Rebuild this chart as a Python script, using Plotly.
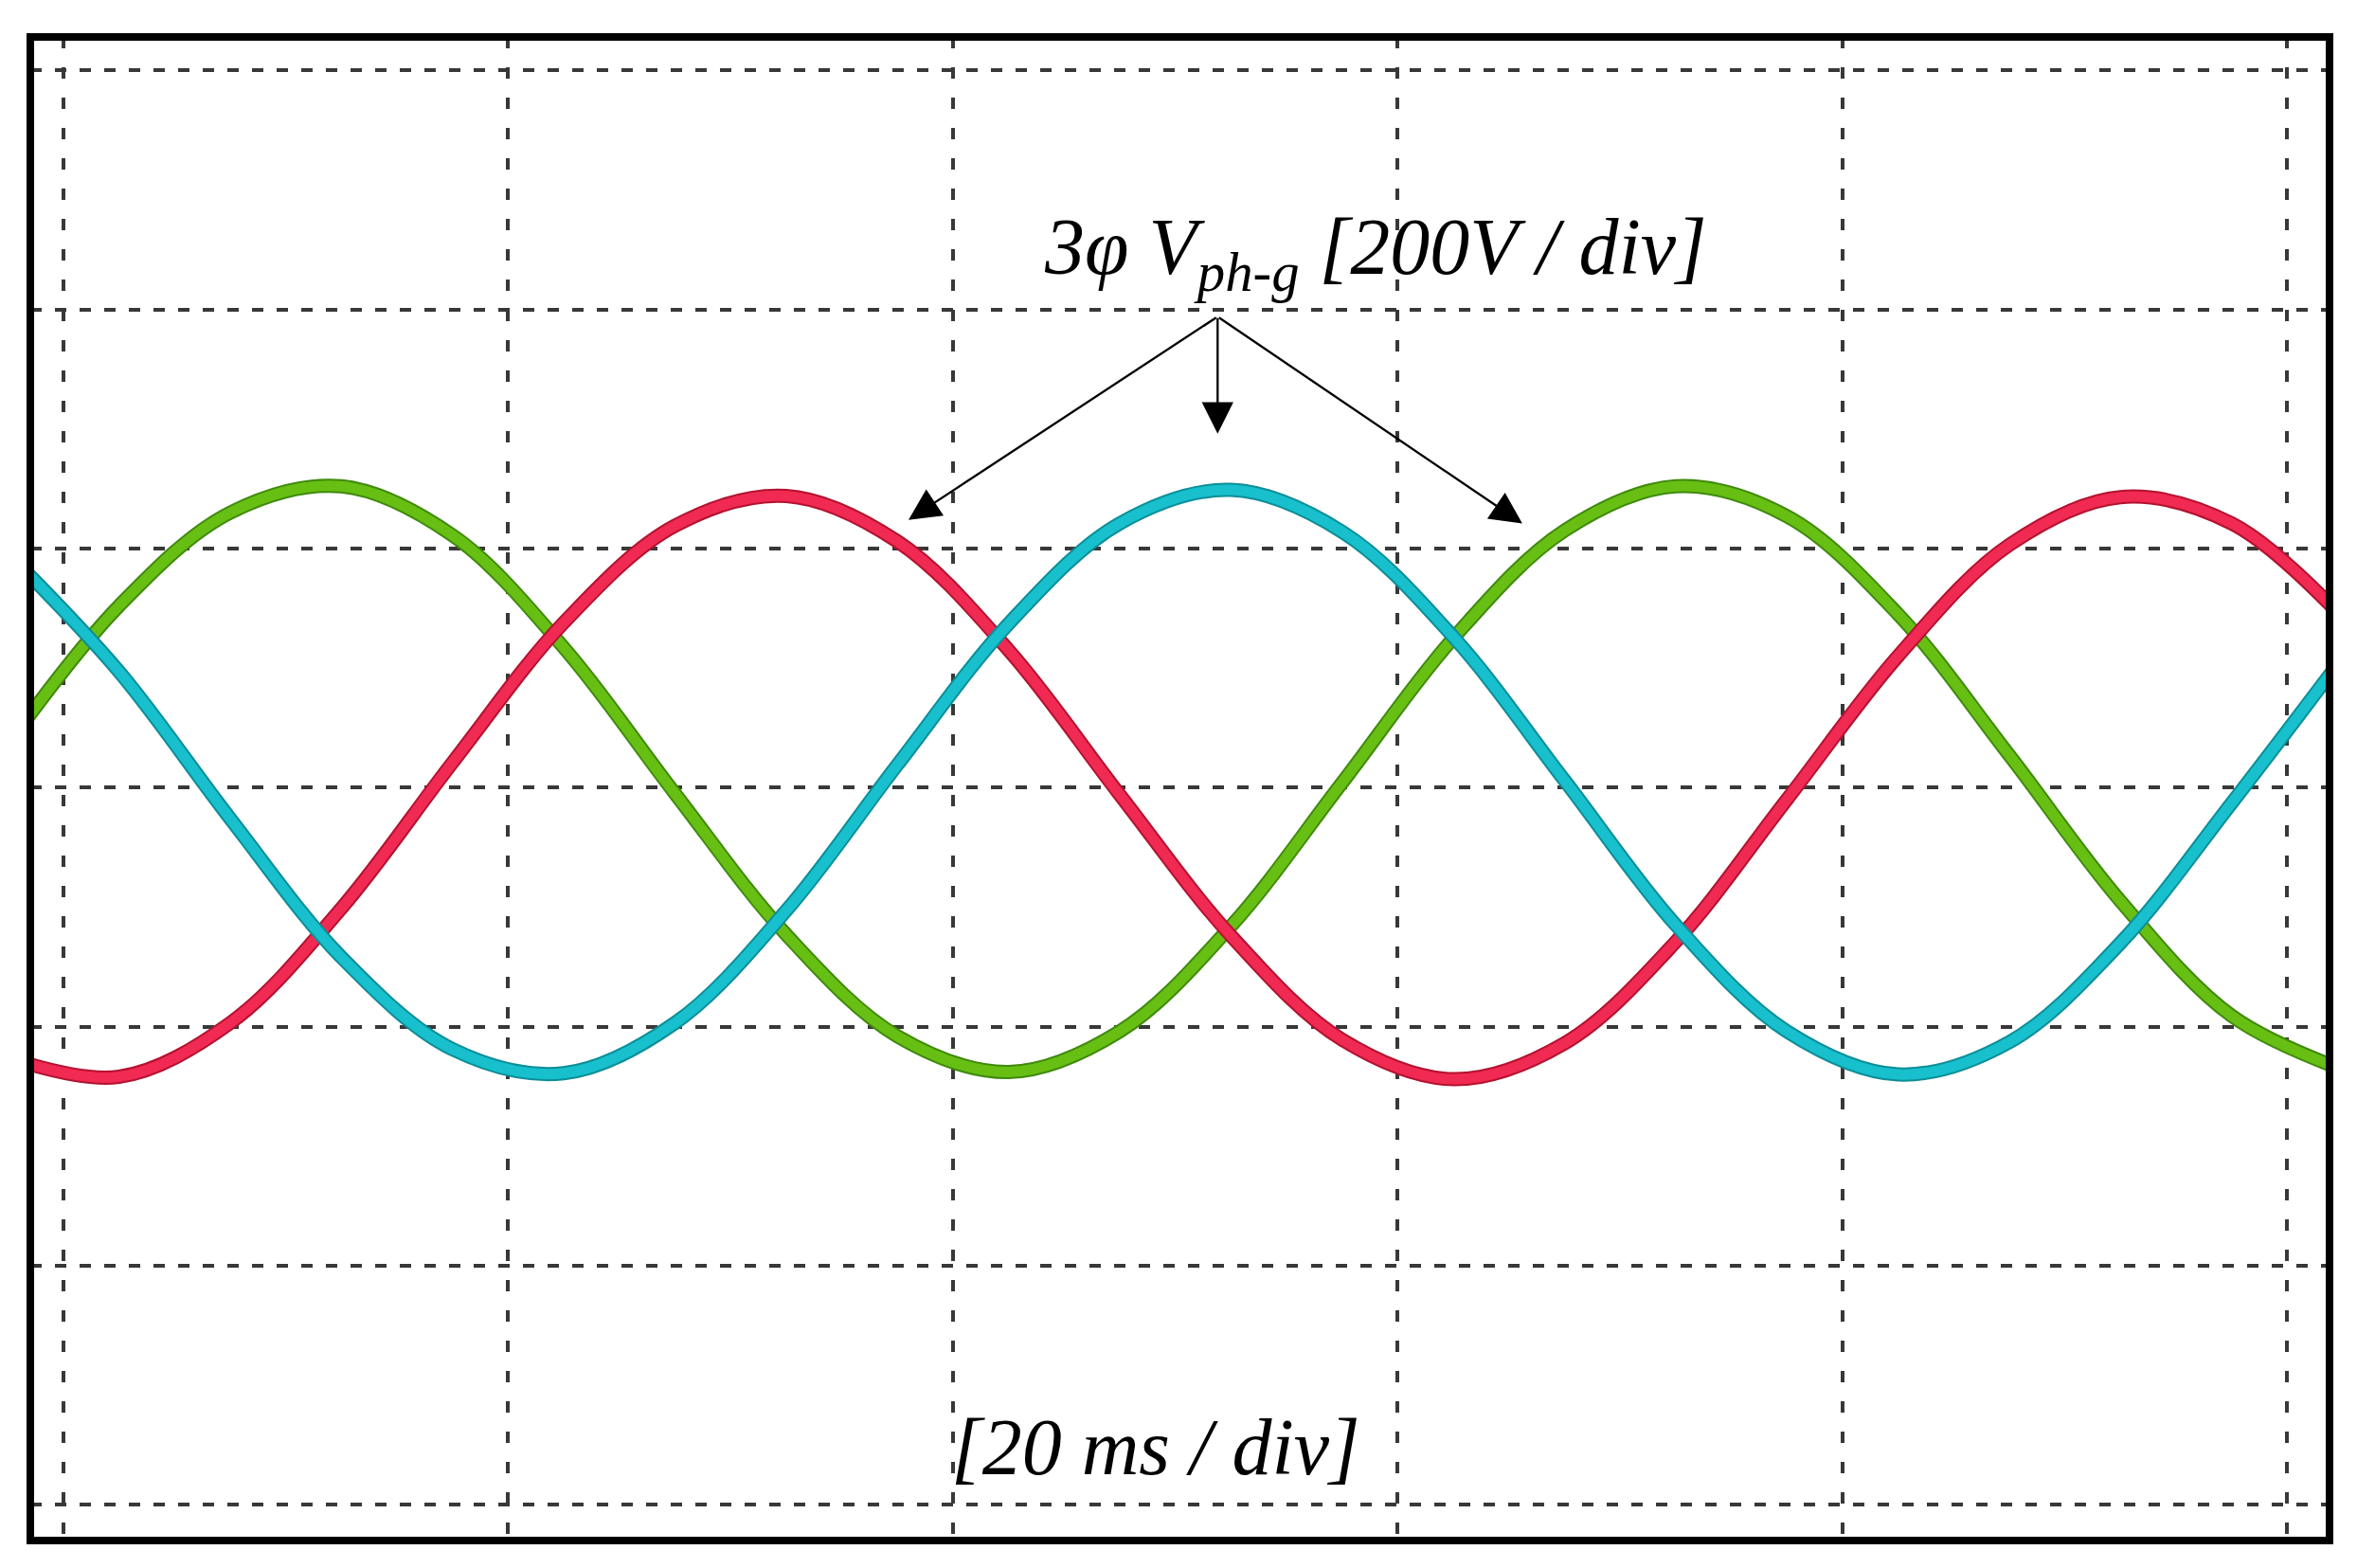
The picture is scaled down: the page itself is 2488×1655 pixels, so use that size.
import plotly.graph_objects as go

# Time axis (ms) and the three phase-to-ground voltages (V)
time_ms = [-2.5, 2.5, 7.5, 12.5, 17.5, 22.5, 27.5, 32.5, 37.5, 42.5, 47.5,
           52.5, 57.5, 62.5, 67.5, 72.5, 77.5, 82.5, 87.5, 92.5, 97.5, 102.5]
v_green = [36, 152, 230, 252, 211, 117, -5, -123, -208, -238, -204,
           -116, 4, 125, 215, 252, 227, 145, 27, -95, -191, -236]
v_red = [-226, -242, -197, -101, 21, 138, 219, 244, 206, 115, -6,
         -124, -211, -244, -214, -129, -10, 110, 203, 243, 221, 142]
v_cyan = [196, 97, -26, -142, -219, -239, -197, -103, 19, 137, 221,
          249, 214, 126, 6, -115, -204, -240, -213, -130, -13, 109]

# Scope divisions: 20 ms / div and 200 V / div
x_grid = [0, 20, 40, 60, 80, 100]
y_grid = [-600, -400, -200, 0, 200, 400, 600]

X_RANGE = [-1.49, 101.9]
Y_RANGE = [-630, 628]

FONT = "Liberation Serif"
TRACES = [
    ("green", v_green, "#68bf14", "#3f8a0c"),
    ("red", v_red, "#f02a52", "#b3122f"),
    ("cyan", v_cyan, "#17c0cc", "#0c8e98"),
]

fig = go.Figure()

for name, ys, color, edge in TRACES:
    # darker halo under the trace imitates the fuzzy scope edge
    fig.add_trace(go.Scatter(
        x=time_ms, y=ys, mode="lines", name=name + "_edge",
        line=dict(color=edge, width=15, shape="spline"),
        hoverinfo="skip", showlegend=False,
    ))
    fig.add_trace(go.Scatter(
        x=time_ms, y=ys, mode="lines", name=name,
        line=dict(color=color, width=11, shape="spline"),
        showlegend=False,
    ))

fig.update_xaxes(
    range=X_RANGE, tickvals=x_grid, showticklabels=False, ticks="",
    showgrid=True, gridcolor="#383838", gridwidth=3.5, griddash="12px,20px",
    zeroline=False, showline=False,
)
fig.update_yaxes(
    range=Y_RANGE, tickvals=y_grid, showticklabels=False, ticks="",
    showgrid=True, gridcolor="#383838", gridwidth=3.5, griddash="12px,14px",
    zeroline=False, showline=False,
)

# Label text and the three pointer arrows
label_font = dict(family=FONT, size=84, color="black")
annotations = [
    dict(x=59, y=447, xref="x", yref="y", showarrow=False,
         text="<i>3φ V<sub>ph-g</sub> [200V / div]</i>", font=label_font),
    dict(x=49.1, y=-552, xref="x", yref="y", showarrow=False,
         text="<i>[20 ms / div]</i>", font=label_font),
]
arrow_tail = (51.9, 394)
for hx, hy in [(38.0, 224), (51.9, 296), (65.6, 221)]:
    annotations.append(dict(
        x=hx, y=hy, xref="x", yref="y",
        ax=arrow_tail[0], ay=arrow_tail[1], axref="x", ayref="y",
        text="", showarrow=True, arrowhead=2, arrowsize=2.9,
        arrowwidth=2.3, arrowcolor="black",
    ))

# page body adds an 8px offset, so the figure is 8px smaller than the window
fig.update_layout(
    width=2480, height=1647,
    margin=dict(l=24, r=29, t=31, b=29),
    plot_bgcolor="white", paper_bgcolor="white",
    annotations=annotations,
    shapes=[dict(type="rect", xref="paper", yref="paper", x0=0, x1=1, y0=0, y1=1,
                 line=dict(color="black", width=8), layer="above")],
    font=dict(family=FONT),
)

fig.write_html("out.html")
